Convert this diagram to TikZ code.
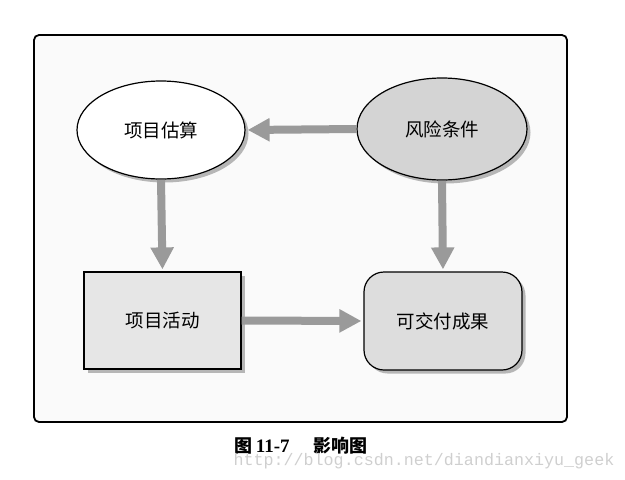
\documentclass[tikz,border=0pt]{standalone}
\usepackage{fontspec}
\setmainfont{Liberation Serif}
\newfontfamily\cjk{Noto Sans CJK SC}
\newfontfamily\wmfont{Liberation Mono}
\usetikzlibrary{shapes.geometric,arrows.meta,shadows}
\definecolor{framebg}{HTML}{FAFAFA}
\definecolor{arrowgray}{HTML}{9A9A9A}
\definecolor{riskfill}{HTML}{D4D4D4}
\definecolor{actfill}{HTML}{E6E6E6}
\definecolor{delfill}{HTML}{DDDDDD}
\definecolor{wmgray}{HTML}{CFCFCF}
\tikzset{
  shapebase/.style={draw=black, line width=1.2pt, inner sep=0pt,
    font=\cjk\fontsize{18.5}{22}\selectfont,
    drop shadow={shadow xshift=3.5pt, shadow yshift=-3.5pt, fill=black!35, opacity=0.8}},
  ellnode/.style={shapebase, ellipse},
  boxnode/.style={shapebase, rectangle},
  roundnode/.style={shapebase, rectangle, rounded corners=20pt},
  bigarrow/.style={draw=arrowgray, line width=8pt,
    -{Triangle[width=22pt,length=22pt]}, shorten >=2pt},
}
\begin{document}
\begin{tikzpicture}[x=1pt,y=-1pt]
\useasboundingbox (0,0) rectangle (625,480);
% outer frame
\draw[line width=1.8pt, rounded corners=5pt, fill=framebg] (34,35) rectangle (567,422);
% nodes
\node[ellnode, fill=white, minimum width=168pt, minimum height=98pt] (est) at (161,130) {项目估算};
\node[ellnode, fill=riskfill, minimum width=170pt, minimum height=102pt] (risk) at (442,129) {风险条件};
\node[boxnode, fill=actfill, minimum width=157pt, minimum height=97pt] (act) at (162.5,320.5) {项目活动};
\node[roundnode, fill=delfill, minimum width=158pt, minimum height=98pt] (del) at (443,321) {可交付成果};
% connectors
\draw[bigarrow] (risk.west) -- (est.east);
\draw[bigarrow] (est.south) -- (act.north);
\draw[bigarrow] (risk.south) -- (del.north);
\draw[bigarrow] (act.east) -- (del.west);
% caption
\node (cap) at (301,446) {\cjk\bfseries\fontsize{18}{21}\selectfont 图\,{\rmfamily\fontsize{19}{21}\selectfont 11-7}\hspace{1.3em}影响图};
\node[text=wmgray, font=\wmfont\fontsize{16.7}{19}\selectfont, anchor=west] (wm) at (230,461) {http://blog.csdn.net/diandianxiyu\_geek};
\end{tikzpicture}
\end{document}
